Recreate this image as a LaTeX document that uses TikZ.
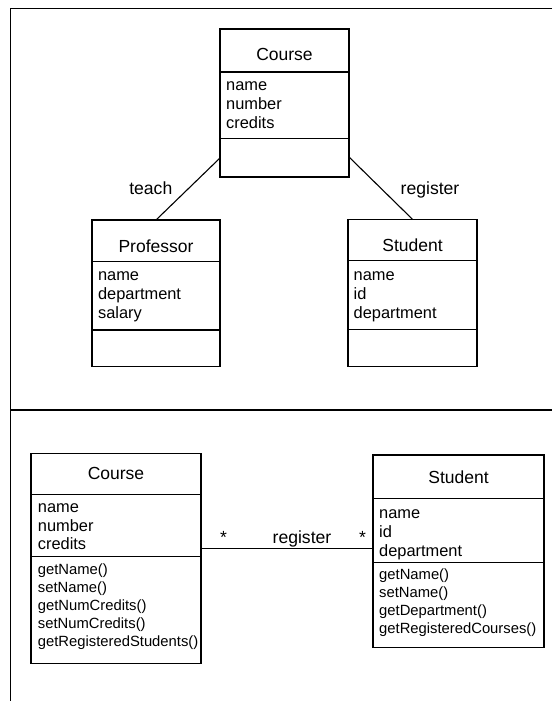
\documentclass[tikz,border=0pt]{standalone}
\usepackage{fontspec}
\setmainfont{Liberation Sans}
\begin{document}
\begin{tikzpicture}[x=1pt,y=-1pt,
  umlbox/.style={draw,line width=1.1pt,rectangle,inner sep=0pt,outer sep=0pt,anchor=north west},
  ctitle/.style={anchor=base,inner sep=0pt,font=\fontsize{17.5}{21}\selectfont},
  cattr/.style={anchor=base west,inner sep=0pt,font=\fontsize{16.4}{19}\selectfont},
  cmeth/.style={anchor=base west,inner sep=0pt,font=\fontsize{14.8}{18}\selectfont},
  alabel/.style={anchor=base,inner sep=0pt,font=\fontsize{17.6}{21}\selectfont},
  link/.style={line width=1.1pt},
  frameline/.style={line width=1.1pt}]
\useasboundingbox (0,0) rectangle (552,701);

% outer frame, open on the right and at the bottom
\draw[frameline] (552,8.5) -- (10.5,8.5) -- (10.5,701);
\draw[frameline] (10.5,410) -- (552,410);

% ---------- upper diagram ----------
\node[umlbox,minimum width=129pt,minimum height=148pt] (course) at (220,29) {};
\draw[link] (course.north west |- 0,72) -- (course.north east |- 0,72);
\draw[link] (course.north west |- 0,138.5) -- (course.north east |- 0,138.5);
\node[ctitle] (courseT) at (284.5,60.7) {Course};
\foreach \t [count=\i from 0] in {name,number,credits}
  \node[cattr] (courseA\i) at (226,90.7+19*\i) {\t};

\node[umlbox,minimum width=128pt,minimum height=146.7pt] (prof) at (92,220) {};
\draw[link] (prof.north west |- 0,261.7) -- (prof.north east |- 0,261.7);
\draw[link] (prof.north west |- 0,330) -- (prof.north east |- 0,330);
\node[ctitle] (profT) at (156,252) {Professor};
\foreach \t [count=\i from 0] in {name,department,salary}
  \node[cattr] (profA\i) at (97.9,280.7+19*\i) {\t};

\node[umlbox,minimum width=129pt,minimum height=147.4pt] (stud) at (348,219.3) {};
\draw[link] (stud.north west |- 0,260.7) -- (stud.north east |- 0,260.7);
\draw[link] (stud.north west |- 0,329.3) -- (stud.north east |- 0,329.3);
\node[ctitle] (studT) at (412.5,251) {Student};
\foreach \t [count=\i from 0] in {name,id,department}
  \node[cattr] (studA\i) at (353.5,280+19*\i) {\t};

\draw[link] ([yshift=19pt]course.south west) -- (prof.north);
\draw[link] ([yshift=20pt]course.south east) -- (stud.north);
\node[alabel] (teachL) at (150.8,194) {teach};
\node[alabel] (regL) at (430,194) {register};

% ---------- lower diagram ----------
\node[umlbox,minimum width=170pt,minimum height=210pt] (course2) at (31,453.3) {};
\draw[link] (course2.north west |- 0,494.3) -- (course2.north east |- 0,494.3);
\draw[link] (course2.north west |- 0,556.7) -- (course2.north east |- 0,556.7);
\node[ctitle] (course2T) at (116,479) {Course};
\foreach \t [count=\i from 0] in {name,number,credits}
  \node[cattr] (course2A\i) at (37.7,512.3+18.8*\i) {\t};
\foreach \t [count=\i from 0] in {getName(),setName(),getNumCredits(),setNumCredits(),getRegisteredStudents()}
  \node[cmeth] (course2M\i) at (37.7,574+18*\i) {\t};

\node[umlbox,minimum width=171pt,minimum height=192.3pt] (stud2) at (373,455) {};
\draw[link] (stud2.north west |- 0,498.3) -- (stud2.north east |- 0,498.3);
\draw[link] (stud2.north west |- 0,562.3) -- (stud2.north east |- 0,562.3);
\node[ctitle] (stud2T) at (458.5,483) {Student};
\foreach \t [count=\i from 0] in {name,id,department}
  \node[cattr] (stud2A\i) at (379,518+19*\i) {\t};
\foreach \t [count=\i from 0] in {getName(),setName(),getDepartment(),getRegisteredCourses()}
  \node[cmeth] (stud2M\i) at (379,579+18*\i) {\t};

\draw[link] ([yshift=10pt]course2.east) coordinate (regA) -- (regA -| stud2.west);
\node[alabel] (reg2L) at (302,543) {register};
\node[alabel] (multA) at (223.5,543) {*};
\node[alabel] (multB) at (362.6,543) {*};
\end{tikzpicture}
\end{document}
